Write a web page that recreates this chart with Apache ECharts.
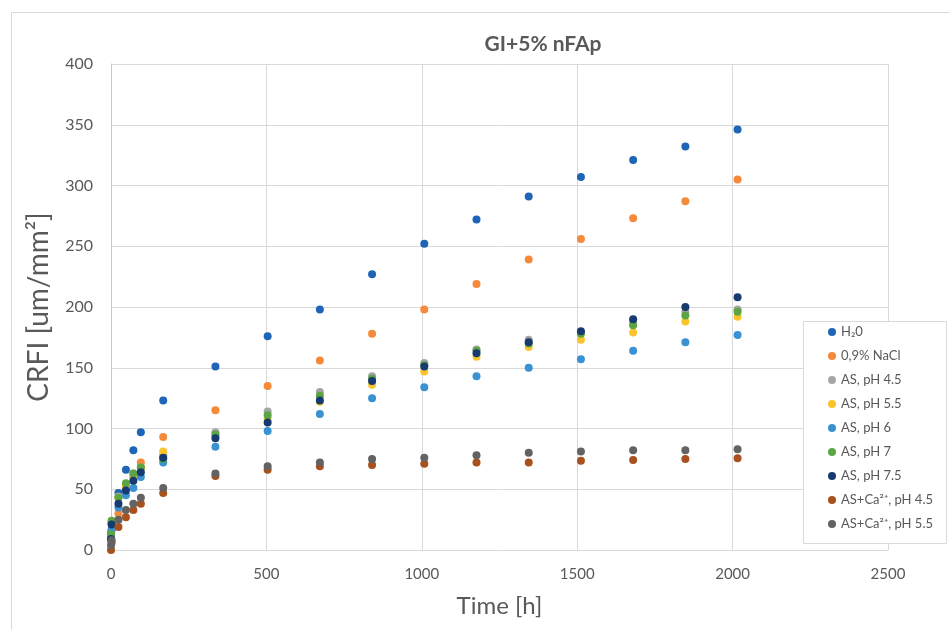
<!DOCTYPE html>
<html>
<head>
<meta charset="utf-8">
<script src="https://cdn.jsdelivr.net/npm/echarts@6/dist/echarts.min.js"></script>
<style>
  html, body { margin: 0; padding: 0; background: #fff; }
  #chart { width: 950px; height: 630px; }
</style>
</head>
<body>
<div id="chart"></div>
<script>
// sampling times [h]
const times = [0, 2, 24, 48, 72, 96, 168, 336, 504, 672, 840, 1008, 1176, 1344, 1512, 1680, 1848, 2016]

// CRFI values per solution
const h2o    = [14, 22, 47, 66, 82, 97, 123, 151, 176, 198, 227, 252, 272, 291, 307, 321, 332, 346]
const nacl   = [8, 16, 30, 52, 60, 72, 93, 115, 135, 156, 178, 198, 219, 239, 256, 273, 287, 305]
const as45   = [10, 22, 44, 54, 63, 68, 78, 97, 114, 130, 143, 154, 165, 173, 179, 187, 196, 198]
const as55   = [12, 24, 43, 53, 61, 67, 81, 94, 108, 122, 136, 147, 159, 167, 173, 179, 188, 192]
const as6    = [11, 17, 35, 45, 51, 60, 72, 85, 98, 112, 125, 134, 143, 150, 157, 164, 171, 177]
const as7    = [13, 24, 43, 55, 63, 68, 75, 95, 111, 127, 141, 152, 164, 170, 178, 185, 193, 196]
const as75   = [9, 21, 38, 49, 57, 64, 76, 92, 105, 123, 139, 151, 162, 171, 180, 190, 200, 208]
const asCa45 = [0, 6, 19, 27, 33, 38, 47, 61, 66, 69, 70, 71, 72, 72, 73.5, 74, 75, 75.5]
const asCa55 = [4, 8, 25, 33, 38, 43, 51, 63, 69, 72, 75, 76, 78, 80, 81, 82, 82, 83]

const seriesNames = ['H\u20820', '0,9% NaCl', 'AS, pH 4.5', 'AS, pH 5.5', 'AS, pH 6', 'AS, pH 7', 'AS, pH 7.5', 'AS+Ca\u00b2\u207a, pH 4.5', 'AS+Ca\u00b2\u207a, pH 5.5']
const seriesValues = [h2o, nacl, as45, as55, as6, as7, as75, asCa45, asCa55]
const seriesColors = ['#1f65b7', '#f58a3a', '#a5a5a5', '#fbc42a', '#3a92d2', '#5ba543', '#173b70', '#a9511d', '#636363']

const xTicks = [0, 500, 1000, 1500, 2000, 2500]
const yTicks = [0, 50, 100, 150, 200, 250, 300, 350, 400]

const textColor = '#595959'
const gridColor = '#d9d9d9'
const fontFamily = 'Lato, "Noto Sans", sans-serif'

const chart = echarts.init(document.getElementById('chart'))

const option = {
  animation: false,
  backgroundColor: '#fff',
  grid: {
    left: 111,
    right: 62,
    top: 64,
    bottom: 80
  },
  xAxis: {
    type: 'value',
    min: xTicks[0],
    max: xTicks[xTicks.length - 1],
    interval: 500,
    name: 'Time [h]',
    nameLocation: 'middle',
    nameGap: 44,
    nameTextStyle: { fontSize: 24, color: textColor, fontFamily },
    axisLine: { show: true, lineStyle: { color: gridColor } },
    axisTick: { show: false },
    axisLabel: { fontSize: 15, color: textColor, fontFamily, margin: 17, formatter: v => String(v) },
    splitLine: { show: true, lineStyle: { color: gridColor, width: 1 } }
  },
  yAxis: {
    type: 'value',
    min: yTicks[0],
    max: yTicks[yTicks.length - 1],
    interval: 50,
    name: 'CRFI [um/mm\u00b2]',
    nameLocation: 'middle',
    nameRotate: 90,
    nameGap: 58,
    nameTextStyle: { fontSize: 28, color: textColor, fontFamily },
    axisLine: { show: true, lineStyle: { color: '#c8c8c8' } },
    axisTick: { show: false },
    axisLabel: { fontSize: 16, color: textColor, fontFamily, margin: 18, formatter: v => String(v) },
    splitLine: { show: true, lineStyle: { color: gridColor, width: 1 } }
  },
  legend: {
    orient: 'vertical',
    left: 828,
    top: 325,
    icon: 'circle',
    itemWidth: 8,
    itemHeight: 8,
    itemGap: 10,
    itemTextGap: 5,
    padding: 0,
    z: 5,
    textStyle: { fontSize: 13, lineHeight: 14, color: textColor, fontFamily },
    data: seriesNames
  },
  graphic: [
    {
      type: 'rect',
      z: 0,
      silent: true,
      shape: { x: 11.5, y: 12.5, width: 960, height: 640 },
      style: { fill: 'none', stroke: gridColor, lineWidth: 1 }
    },
    {
      type: 'rect',
      z: 3,
      silent: true,
      shape: { x: 803.5, y: 321.5, width: 143, height: 222 },
      style: { fill: '#fff', stroke: gridColor, lineWidth: 1 }
    },
    {
      type: 'text',
      z: 5,
      x: 543,
      y: 44,
      style: {
        text: 'GI+5% nFAp',
        fontSize: 21,
        fontWeight: 'bold',
        fill: textColor,
        fontFamily,
        align: 'center',
        verticalAlign: 'middle'
      }
    }
  ],
  series: seriesNames.map((name, k) => ({
    name,
    type: 'scatter',
    symbol: 'circle',
    symbolSize: 8,
    itemStyle: { color: seriesColors[k], opacity: 1 },
    data: times.map((t, i) => [t, seriesValues[k][i]])
  }))
}

chart.setOption(option)
</script>
</body>
</html>
